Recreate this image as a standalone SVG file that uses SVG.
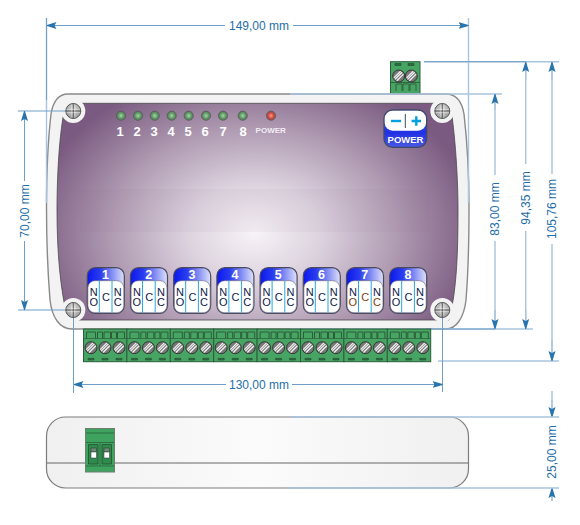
<svg xmlns="http://www.w3.org/2000/svg" xmlns:xlink="http://www.w3.org/1999/xlink" width="580" height="525" viewBox="0 0 580 525">
<style>
.dim{stroke:#6f9fc8;stroke-width:1;fill:none}
.ext{stroke:#a9c4de;stroke-width:1.4;fill:none}
.dt{font:12px "Liberation Sans",Arial,sans-serif;fill:#1f6ea8;text-anchor:middle}
.led{font:bold 13px "Liberation Sans",Arial,sans-serif;fill:#fff;text-anchor:middle}
.rn{font:bold 12.5px "Liberation Sans",Arial,sans-serif;fill:#fff;text-anchor:middle}
.rl{font:11px "Liberation Sans",Arial,sans-serif;fill:#10204a;text-anchor:middle}
.sc{fill:#777;stroke:#2e2e2e;stroke-width:.9}
.gr{fill:#47a564;stroke:#2c5c3a;stroke-width:1}
</style>
<defs>
<marker id="ah" viewBox="0 0 10 8" refX="10" refY="4" markerWidth="10" markerHeight="8" markerUnits="userSpaceOnUse" orient="auto-start-reverse">
<path d="M0 0.5L10 3.6V4.4L0 7.5L2 4Z" fill="#2a74ad"/>
</marker>
<linearGradient id="sideG" x1="0" y1="0" x2="1" y2="0"><stop offset="0" stop-color="#f0f0f0"/><stop offset=".5" stop-color="#fbfbfb"/><stop offset="1" stop-color="#f0f0f0"/></linearGradient>
<radialGradient id="panelG" gradientUnits="userSpaceOnUse" cx="0" cy="0" r="1" gradientTransform="translate(254 233) scale(225 165)">
<stop offset="0" stop-color="#f7f3f7"/><stop offset=".3" stop-color="#dcd2de"/><stop offset=".65" stop-color="#ad98b0"/><stop offset="1" stop-color="#7a5a80"/>
</radialGradient>
<linearGradient id="relayHead" x1="0" y1="0" x2="1" y2="0"><stop offset="0" stop-color="#0a18ee"/><stop offset=".35" stop-color="#2a3cee"/><stop offset="1" stop-color="#dfe2fa"/></linearGradient>
<linearGradient id="powerB" x1="0" y1="0" x2="0" y2="1"><stop offset="0" stop-color="#5a6aea"/><stop offset=".6" stop-color="#2030e4"/><stop offset="1" stop-color="#4a58e4"/></linearGradient>
<radialGradient id="ledG" cx=".5" cy=".5" r=".55"><stop offset="0" stop-color="#a8d4a8"/><stop offset=".55" stop-color="#5f9a66"/><stop offset="1" stop-color="#5a6a5c"/></radialGradient>
<radialGradient id="ledR" cx=".5" cy=".5" r=".55"><stop offset="0" stop-color="#ff9a90"/><stop offset=".55" stop-color="#d0483e"/><stop offset="1" stop-color="#7a5c5a"/></radialGradient>
<radialGradient id="screwG" cx=".5" cy=".4" r=".65"><stop offset="0" stop-color="#e0e0e0"/><stop offset="1" stop-color="#909090"/></radialGradient>
<g id="boss"><circle r="7.5" fill="url(#screwG)" stroke="#555" stroke-width="1"/><path d="M-7.300 0H7.300M0-7.300V7.300" stroke="#555" stroke-width=".9"/><path d="M-7-1.500H7M-7 1.500H7M-1.500-7V7M1.500-7V7" stroke="#fff" stroke-width=".6" opacity=".55"/></g>
<g id="ts"><circle r="6" class="sc"/><path d="M-3.800 3.400L3.400-3.800M-1.900 4.800L4.800-1.900M-4.800 1.900L1.900-4.800" stroke="#f2f2f2" stroke-width="1.300"/></g>
<g id="terminal">
<rect width="43.4" height="32.700" class="gr"/>
<path d="M3 9.500V3H12V9.500M14 9.500V3H19V9.500M20.500 9.500V3H27V9.500M28 9.500V3H33V9.500M34 9.500V3H41V9.500" fill="none" stroke="#2c5c3a" stroke-width="1"/>
<path d="M0 9.500H43.400" stroke="#2c5c3a" stroke-width=".7"/>
<use xlink:href="#ts" x="7.500" y="18.700"/><use xlink:href="#ts" x="21.500" y="18.700"/><use xlink:href="#ts" x="35.500" y="18.700"/>
<path d="M4.500 29.300H10.500V31H4.500ZM18.500 29.300H24.500V31H18.500ZM32.500 29.300H38.500V31H32.500Z" fill="#2e6a42" stroke="#24502f" stroke-width=".6"/>
</g>
<g id="relay">
<rect x=".3" y=".7" width="37" height="45.600" rx="8" fill="url(#relayHead)" stroke="#4a4a5a" stroke-width="1.200"/>
<rect x=".9" y="13.700" width="35.800" height="32" rx="7" fill="#fff" stroke="#6a6a7a" stroke-width=".6"/>
<path d="M12.300 14V45.500M25 14V45.500" stroke="#25a8dc" stroke-width="1"/>
</g>
</defs>

<g id="top-connector">
<rect x="390.500" y="61.700" width="29.500" height="32" class="gr"/>
<path d="M391 82.500H420M396 91V84H402V91M403 91V84H409V91M410 91V84H416V91" fill="none" stroke="#2c5c3a" stroke-width=".9"/>
<path d="M395 63.500H401V65.500H395ZM408 63.500H414V65.500H408Z" fill="#2e6a42" stroke="#24502f" stroke-width=".6"/>
<use xlink:href="#ts" x="398.700" y="76"/><use xlink:href="#ts" x="411.300" y="76"/>
</g>

<g id="enclosure">
<path d="M68 94H446C456 94 462 102 464 114C467 140 469 175 469 208C469 245 468 275 466 300C464 318 456 329 446 329H72C60 329 52 318 50 300C48 275 46.500 245 46.500 208C46.500 175 48 140 51 114C53 102 58 94 68 94Z" fill="#f3f3f3" stroke="#8a8a8a" stroke-width="1.400"/>
<path d="M66 103.300H450C454 125 458 170 458 210C458 250 457 290 449 320H68C60 290 57 250 57 210C57 170 60 125 66 103.300Z" fill="url(#panelG)" stroke="#4a4a4a" stroke-width=".8"/>
<rect x="80" y="189" width="350" height="43" fill="#8a6a90" opacity=".05"/>
<circle cx="73.300" cy="111" r="12" fill="#f3f3f3"/><circle cx="442.300" cy="111" r="12" fill="#f3f3f3"/><circle cx="73.300" cy="310" r="12" fill="#f3f3f3"/><circle cx="442.300" cy="310" r="12" fill="#f3f3f3"/>
</g>

<g id="side-view">
<rect x="46.500" y="417" width="422" height="71" rx="19" fill="url(#sideG)" stroke="#7d7d7d" stroke-width="1.200"/>
<path d="M47 463H468" stroke="#666" stroke-width="1"/>
</g>

<g id="connectors">
<path class="ext" d="M46.500 18V203M468.500 18V203"/>
<path class="dim" d="M46.500 18V100"/>
<path class="dim" marker-end="url(#ah)" d="M225 25.500H46.500"/>
<path class="dim" marker-end="url(#ah)" d="M293 25.500H468.500"/>
<path class="dim" d="M18 111H70M18 310H70"/>
<path class="dim" marker-end="url(#ah)" d="M24.500 181V111"/>
<path class="dim" marker-end="url(#ah)" d="M24.500 241V310"/>
<path class="ext" d="M424 61.700H559"/>
<path class="dim" d="M424 61.700H526"/>
<path class="ext" d="M290 94H502"/>
<path class="ext" d="M290 329H533"/>
<path class="dim" d="M426 329H495"/>
<path class="ext" d="M438 361H559"/>
<path class="ext" d="M495 175V94M495 241V329M525.700 164V62M525.700 231V329M552 174V62M552 244V361M552 391V417M552 488V501"/>
<path class="ext" marker-end="url(#ah)" d="M495 110V94"/>
<path class="ext" marker-end="url(#ah)" d="M495 310V329"/>
<path class="ext" marker-end="url(#ah)" d="M525.700 80V62"/>
<path class="ext" marker-end="url(#ah)" d="M525.700 310V329"/>
<path class="ext" marker-end="url(#ah)" d="M552 80V62"/>
<path class="ext" marker-end="url(#ah)" d="M552 340V361"/>
<path class="ext" marker-end="url(#ah)" d="M552 400V417"/>
<path class="ext" marker-end="url(#ah)" d="M552 501V488"/>
<path class="ext" d="M290 417H559M290 488H559"/>
<path class="dim" d="M73.500 310V393M442.500 310V392"/>
<path class="dim" marker-end="url(#ah)" d="M226 384.500H73.500"/>
<path class="dim" marker-end="url(#ah)" d="M292 384.500H442.500"/>
</g>

<use id="screw-tl" xlink:href="#boss" x="73.300" y="111"/>
<use id="screw-tr" xlink:href="#boss" x="442.300" y="111"/>
<use id="screw-bl" xlink:href="#boss" x="73.300" y="310"/>
<use id="screw-br" xlink:href="#boss" x="442.300" y="310"/>

<g id="leds">
<g stroke="#555" stroke-width=".7" fill="url(#ledG)">
<circle cx="121" cy="115.700" r="4.600"/><circle cx="138" cy="115.700" r="4.600"/><circle cx="154.700" cy="115.700" r="4.600"/><circle cx="171.700" cy="115.700" r="4.600"/><circle cx="188.700" cy="115.700" r="4.600"/><circle cx="206" cy="115.700" r="4.600"/><circle cx="223" cy="115.700" r="4.600"/><circle cx="242.700" cy="115.700" r="4.600"/>
</g>
<circle cx="271" cy="115.700" r="4.600" fill="url(#ledR)" stroke="#555" stroke-width=".7"/>
<text class="led" x="120" y="135.500">1</text><text class="led" x="137" y="135.500">2</text><text class="led" x="154" y="135.500">3</text><text class="led" x="171" y="135.500">4</text><text class="led" x="188" y="135.500">5</text><text class="led" x="205" y="135.500">6</text><text class="led" x="223" y="135.500">7</text><text class="led" x="243" y="135.500">8</text>
<text x="270.700" y="133" style="font:bold 8px 'Liberation Sans',Arial,sans-serif;fill:#f4ecf4;text-anchor:middle">POWER</text>
</g>

<g id="power-button">
<rect x="384" y="110" width="42.700" height="37.300" rx="8.500" fill="url(#powerB)" stroke="#404a66" stroke-width="1.300"/>
<rect x="384.700" y="110.700" width="41.300" height="20" rx="8" fill="#fff"/>
<path d="M405.300 114V128" stroke="#3a4a5a" stroke-width="1"/>
<path d="M391 121H401" stroke="#00a0e0" stroke-width="2.400"/>
<path d="M411.600 121H421M416.300 116.300V125.700" stroke="#00a0e0" stroke-width="2.400"/>
<text x="405.500" y="142.500" style="font:bold 9.500px 'Liberation Sans',Arial,sans-serif;fill:#fff;text-anchor:middle">POWER</text>
</g>

<g id="relay-1" transform="translate(87 267)"><use xlink:href="#relay"/><text class="rn" x="18.500" y="11.500">1</text><text class="rl" x="6.700" y="28.500">N</text><text class="rl" x="6.700" y="39.300">O</text><text class="rl" x="19" y="33.500">C</text><text class="rl" x="30.700" y="28.500">N</text><text class="rl" x="30.700" y="39.300">C</text></g>
<g id="relay-2" transform="translate(130.200 267)"><use xlink:href="#relay"/><text class="rn" x="18.500" y="11.500">2</text><text class="rl" x="6.700" y="28.500">N</text><text class="rl" x="6.700" y="39.300">O</text><text class="rl" x="19" y="33.500">C</text><text class="rl" x="30.700" y="28.500">N</text><text class="rl" x="30.700" y="39.300">C</text></g>
<g id="relay-3" transform="translate(173.400 267)"><use xlink:href="#relay"/><text class="rn" x="18.500" y="11.500">3</text><text class="rl" x="6.700" y="28.500">N</text><text class="rl" x="6.700" y="39.300">O</text><text class="rl" x="19" y="33.500">C</text><text class="rl" x="30.700" y="28.500">N</text><text class="rl" x="30.700" y="39.300">C</text></g>
<g id="relay-4" transform="translate(216.600 267)"><use xlink:href="#relay"/><text class="rn" x="18.500" y="11.500">4</text><text class="rl" x="6.700" y="28.500">N</text><text class="rl" x="6.700" y="39.300">O</text><text class="rl" x="19" y="33.500">C</text><text class="rl" x="30.700" y="28.500">N</text><text class="rl" x="30.700" y="39.300">C</text></g>
<g id="relay-5" transform="translate(259.800 267)"><use xlink:href="#relay"/><text class="rn" x="18.500" y="11.500">5</text><text class="rl" x="6.700" y="28.500">N</text><text class="rl" x="6.700" y="39.300">O</text><text class="rl" x="19" y="33.500">C</text><text class="rl" x="30.700" y="28.500">N</text><text class="rl" x="30.700" y="39.300">C</text></g>
<g id="relay-6" transform="translate(303 267)"><use xlink:href="#relay"/><text class="rn" x="18.500" y="11.500">6</text><text class="rl" x="6.700" y="28.500">N</text><text class="rl" x="6.700" y="39.300">O</text><text class="rl" x="19" y="33.500">C</text><text class="rl" x="30.700" y="28.500">N</text><text class="rl" x="30.700" y="39.300">C</text></g>
<g id="relay-7" transform="translate(346.200 267)"><use xlink:href="#relay"/><text class="rn" x="18.500" y="11.500">7</text><text class="rl" x="6.700" y="28.500">N</text><text class="rl" x="6.700" y="39.300" style="fill:#7a4010">O</text><text class="rl" x="19" y="33.500" style="fill:#7a4010">C</text><text class="rl" x="30.700" y="28.500">N</text><text class="rl" x="30.700" y="39.300" style="fill:#7a4010">C</text></g>
<g id="relay-8" transform="translate(389.400 267)"><use xlink:href="#relay"/><text class="rn" x="18.500" y="11.500">8</text><text class="rl" x="6.700" y="28.500">N</text><text class="rl" x="6.700" y="39.300">O</text><text class="rl" x="19" y="33.500">C</text><text class="rl" x="30.700" y="28.500">N</text><text class="rl" x="30.700" y="39.300">C</text></g>

<g id="terminals">
<use xlink:href="#terminal" x="83.500" y="329"/><use xlink:href="#terminal" x="126.900" y="329"/><use xlink:href="#terminal" x="170.300" y="329"/><use xlink:href="#terminal" x="213.700" y="329"/><use xlink:href="#terminal" x="257.100" y="329"/><use xlink:href="#terminal" x="300.500" y="329"/><use xlink:href="#terminal" x="343.900" y="329"/><use xlink:href="#terminal" x="387.300" y="329"/>
</g>

<g id="side-connector">
<rect x="85.500" y="428.500" width="29" height="43.500" fill="#3ea35f" stroke="#6d7d72" stroke-width="1"/>
<path d="M86 433H114M86 442.500H114M86 466H114M100 443V466" stroke="#2a6a3e" stroke-width=".9" fill="none"/>
<path d="M88.500 444.500H98V464H88.500ZM102 444.500H111.500V464H102Z" fill="#2f8a4e" stroke="#24502f" stroke-width=".8"/>
<rect x="91" y="448" width="5.500" height="4" fill="#6a8a72" stroke="#333" stroke-width=".5"/>
<rect x="104" y="448" width="5.500" height="4" fill="#6a8a72" stroke="#333" stroke-width=".5"/>
<rect x="91" y="452" width="5.500" height="6" fill="#fff" stroke="#333" stroke-width=".5"/>
<rect x="104" y="452" width="5.500" height="6" fill="#fff" stroke="#333" stroke-width=".5"/>
</g>

<g id="labels">
<text class="dt" x="259" y="30">149,00 mm</text>
<text class="dt" x="259" y="389">130,00 mm</text>
<text class="dt" transform="translate(28.500 211) rotate(-90)">70,00 mm</text>
<text class="dt" transform="translate(499 209) rotate(-90)">83,00 mm</text>
<text class="dt" transform="translate(530 198) rotate(-90)">94,35 mm</text>
<text class="dt" transform="translate(556 209) rotate(-90)">105,76 mm</text>
<text class="dt" transform="translate(556 452) rotate(-90)">25,00 mm</text>
</g>
</svg>
